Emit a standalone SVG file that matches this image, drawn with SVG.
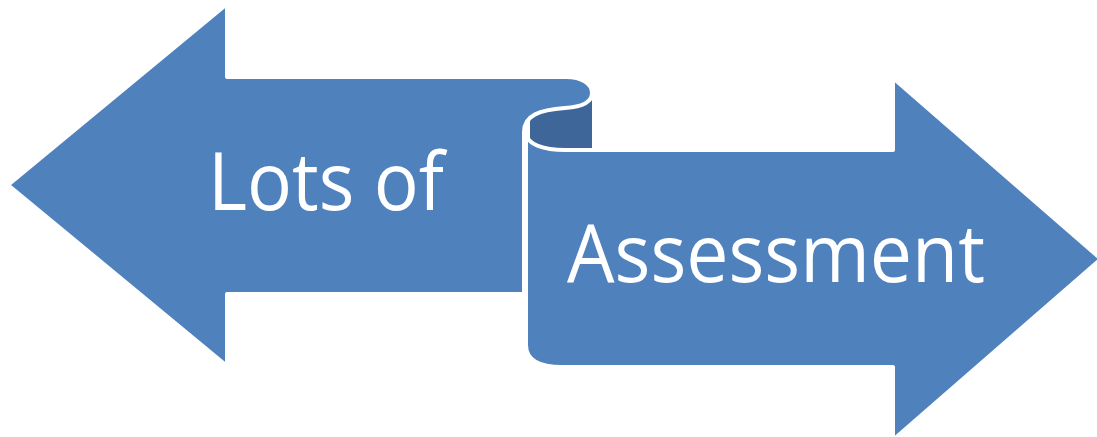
<svg xmlns="http://www.w3.org/2000/svg" width="1097" height="437" viewBox="0 0 1097 437">
  <style>
    .shape { fill: #4F81BD; stroke: #FFFFFF; stroke-width: 4; stroke-linejoin: round; }
    .back { fill: #3E6698; }
    .label { fill: #FFFFFF; font-family: "Open Sans", "Liberation Sans", sans-serif; font-size: 80px; }
  </style>
  <rect width="1097" height="437" fill="#FFFFFF"/>
  <g id="scroll-back">
    <rect class="back" x="530" y="96" width="62" height="54"/>
  </g>
  <g id="right-arrow">
    <path class="shape" d="M 526,132 C 526,145 545,150 565,150 L 893,150 L 893,78 L 1101,259 L 893,440 L 893,367 L 562,367 C 540,367 526,360 526,345 Z"/>
    <text class="label" x="567" y="282" textLength="418" lengthAdjust="spacingAndGlyphs">Assessment</text>
  </g>
  <g id="left-arrow">
    <path class="shape" d="M 8,185 L 227,4 L 227,77 L 566,77 C 582,77 592,84 592,93 C 592,103 580,107 565,108 C 540,110 524,115 524,132 L 524,294 L 227,294 L 227,366 Z"/>
    <text class="label" x="208" y="210" textLength="236" lengthAdjust="spacingAndGlyphs">Lots of</text>
  </g>
  <g id="connectors"></g>
</svg>
